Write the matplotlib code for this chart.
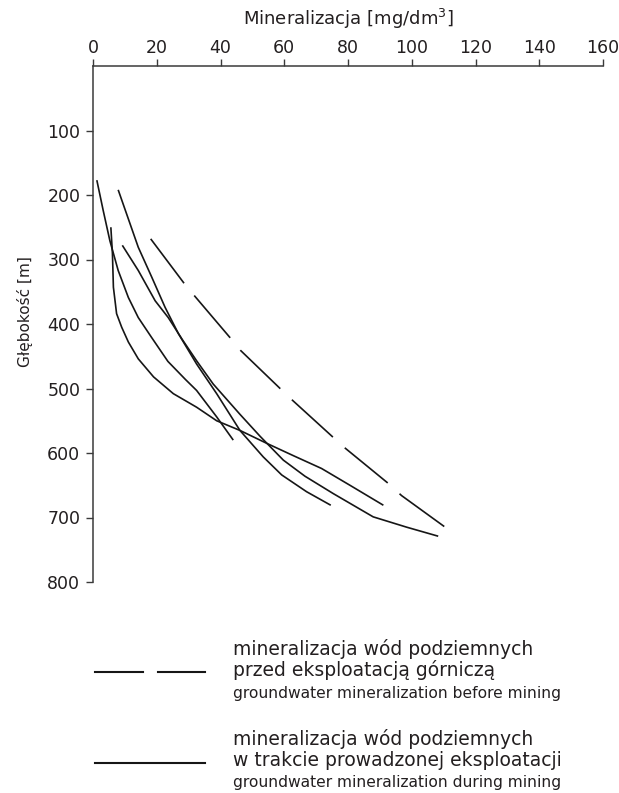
import matplotlib
matplotlib.use("Agg")
import matplotlib.pyplot as plt
from matplotlib.lines import Line2D
import numpy as np

plt.rcParams['font.family'] = ['DejaVu Sans']
plt.rcParams['lines.scale_dashes'] = False

# mineralization [mg/dm3] vs depth [m]
before_min = [18.1, 29.2, 32.3, 44.0, 46.3, 58.7, 62.3, 74.3, 78.5, 92.6, 96.8, 110.2]
before_depth = [268, 341, 359, 427, 441, 500, 517, 571, 590, 647, 666, 714]

mining1_min = [1.2, 3.2, 5.3, 7.9, 11.1, 14.2, 18.4, 23.5, 29.0, 32.5, 38.8, 44.0]
mining1_depth = [177, 224, 271, 317, 359, 390, 421, 458, 486, 503, 544, 580]

mining2_min = [5.6, 6.1, 6.4, 7.4, 9.0, 11.1, 14.2, 19.0, 25.2, 32.5, 38.8, 46.1,
               54.5, 62.8, 71.7, 80.6, 91.1]
mining2_depth = [250, 291, 343, 384, 405, 428, 454, 482, 508, 529, 550, 565,
                 585, 604, 624, 650, 681]

mining3_min = [7.9, 14.2, 18.4, 22.6, 26.8, 32.5, 38.8, 46.1, 53.4, 59.2, 67.0, 74.6]
mining3_depth = [192, 281, 327, 374, 415, 462, 508, 565, 606, 634, 660, 681]

mining4_min = [9.2, 14.2, 19.5, 23.6, 28.0, 32.5, 37.7, 46.1, 52.4, 59.7, 66.5,
               75.4, 87.9, 98.4, 108.3]
mining4_depth = [278, 317, 364, 390, 424, 457, 493, 540, 574, 611, 636,
                 663, 699, 715, 729]

mining_min = [mining1_min, mining2_min, mining3_min, mining4_min]
mining_depth = [mining1_depth, mining2_depth, mining3_depth, mining4_depth]

x_ticks = list(range(0, 161, 20))
y_ticks = list(range(100, 801, 100))

ink = '#161616'
text_col = '#231f20'
axis_col = '#3a3a3a'

W, H = 619, 793
fig = plt.figure(figsize=(W / 100, H / 100), dpi=100)
ax = fig.add_axes([93 / W, 1 - 582 / H, 510 / W, 516 / H])

# before mining - long dashes
dashed, = ax.plot(before_min, before_depth, color=ink, lw=1.2,
                  dash_capstyle='butt', linestyle='--')

# during mining - solid
for xs, ds in zip(mining_min, mining_depth):
    ax.plot(xs, ds, color=ink, lw=1.2, solid_capstyle='butt',
            solid_joinstyle='round')

ax.set_xlim(0, 160)
ax.set_ylim(800, 0)
ax.xaxis.tick_top()
ax.xaxis.set_label_position('top')
ax.set_xticks(x_ticks)
ax.set_yticks(y_ticks)

for side in ['right', 'bottom']:
    ax.spines[side].set_visible(False)
for side in ['left', 'top']:
    ax.spines[side].set_color(axis_col)
    ax.spines[side].set_linewidth(1.1)

ax.tick_params(axis='x', direction='out', length=4.8, width=1.0, pad=1.5,
               labelsize=12.5, color=axis_col, labelcolor=text_col)
ax.tick_params(axis='y', direction='out', length=4.8, width=1.0, pad=4.3,
               labelsize=12.5, color=axis_col, labelcolor=text_col)

ax.set_xlabel('Mineralizacja [mg/dm$^3$]', fontsize=13, color=text_col)
ax.xaxis.set_label_coords(0.5, 1.0795)
ax.set_ylabel('Głębokość [m]', fontsize=11, color=text_col)
ax.yaxis.set_label_coords(-0.118, 0.525)

# fit the dash pattern so the line starts and ends on a dash (6 dashes)
fig.canvas.draw()
pts = ax.transData.transform(np.column_stack([before_min, before_depth]))
length_px = np.sum(np.hypot(*np.diff(pts, axis=0).T))
gap_px = 16
on_px = (length_px - 5 * gap_px) / 6
dashed.set_dashes((on_px * 72 / 100, gap_px * 72 / 100))


def fy(py):
    return 1 - py / H


def fx(px):
    return px / W


# legend
fig.add_artist(Line2D([fx(95), fx(143)], [fy(672), fy(672)], color=ink, lw=1.5))
fig.add_artist(Line2D([fx(158), fx(205)], [fy(672), fy(672)], color=ink, lw=1.5))
fig.add_artist(Line2D([fx(95), fx(205)], [fy(763), fy(763)], color=ink, lw=1.5))

tx = fx(232.5)
legend_lines = [
    ('mineralizacja wód podziemnych', 655, 13.5),
    ('przed eksploatacją górniczą', 676.5, 13.5),
    ('groundwater mineralization before mining', 698, 11.2),
    ('mineralizacja wód podziemnych', 745, 13.5),
    ('w trakcie prowadzonej eksploatacji', 766, 13.5),
    ('groundwater mineralization during mining', 787, 11.2),
]
for txt, py, fs in legend_lines:
    fig.text(tx, fy(py), txt, fontsize=fs, color=text_col, va='baseline', ha='left')

fig.savefig('out.png', dpi=100)
